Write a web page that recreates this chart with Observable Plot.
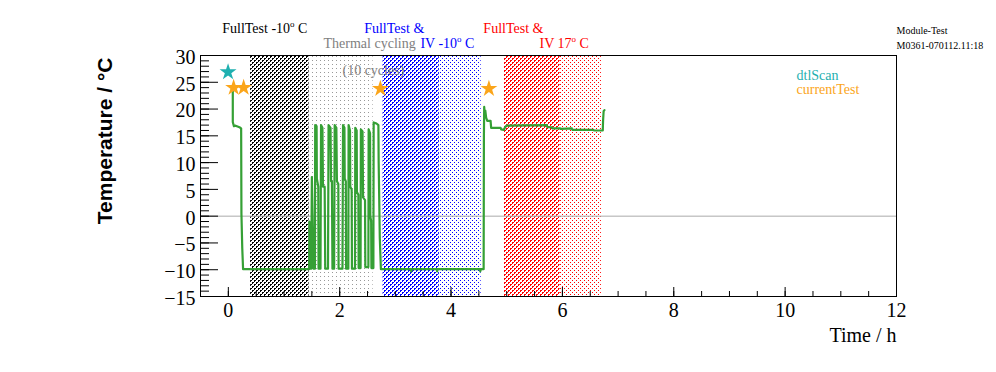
<!DOCTYPE html>
<html>
<head>
<meta charset="utf-8">
<script src="https://cdn.jsdelivr.net/npm/d3@7"></script>
<script src="https://cdn.jsdelivr.net/npm/@observablehq/plot@0.6"></script>
<style>
  body { margin: 0; background: #fff; }
  #chart svg { display: block; }
</style>
</head>
<body>
<div id="chart"></div>
<script>
// ---- Data ----
const times = [
  0.08, 0.08, 0.10, 0.13, 0.20, 0.23, 0.235, 0.25, 0.265,
  1.45, 1.455, 1.465, 1.49, 1.50, 1.53, 1.555,
  1.56, 1.585, 1.59, 1.615, 1.62, 1.655,
  1.665, 1.69, 1.70, 1.73, 1.74, 1.79,
  1.80, 1.835, 1.845, 1.86, 1.87, 1.90,
  1.91, 1.94, 1.95, 1.975, 1.98, 2.05,
  2.06, 2.085, 2.09, 2.11, 2.115, 2.155,
  2.16, 2.185, 2.19, 2.215, 2.22, 2.275,
  2.28, 2.305, 2.31, 2.335, 2.34, 2.375,
  2.38, 2.41, 2.42, 2.455, 2.46, 2.515,
  2.52, 2.545, 2.55, 2.565, 2.57, 2.605,
  2.61, 2.66, 2.695, 2.70, 2.72, 2.74,
  3.28, 3.285, 3.29, 3.745, 3.75, 3.755, 4.52, 4.525, 4.535, 4.585,
  4.59, 4.595, 4.605, 4.615, 4.63, 4.65, 4.71, 4.72, 4.89, 4.90, 4.95, 4.97, 4.995,
  5.72, 5.73, 5.81, 5.82, 5.96, 5.97, 6.17, 6.18, 6.56, 6.57, 6.725, 6.73, 6.74, 6.755
];
const temps = [
  23.5, 17.6, 16.8, 16.9, 16.6, 16.4, 0.5, -6, -9.9,
  -9.9, -1, -9.8, -9.8, 7.3, -9.8, -9.8,
  17, 16.8, 7, 5.5, -9.8, -9.8,
  17, 16.5, 5.5, 5.5, -9.8, -9.8,
  17, 16.5, 6.5, 6.5, -9.8, -9.8,
  17, 16.5, 6.5, 6, -9.8, -9.8,
  17, 16.5, 7, 6.5, -9.8, -9.8,
  17, 16, 5.5, 5, -9.8, -9.8,
  16.5, 16, 4.5, 4, -9.7, -9.7,
  16.2, 15.8, 3.5, 3, -9.5, -9.5,
  16.2, 15.5, 0, -1, -9.7, -9.7,
  17.5, 17.3, 17, 10, -4, -9.9,
  -9.9, -10.3, -9.9, -9.9, -10.3, -9.9, -9.9, -10.3, -9.9, -9.9,
  15, 20.4, 19, 19.7, 18.4, 17.8, 17.8, 16.5, 16.5, 16.2, 16.1, 16.6, 16.9,
  17, 16.6, 16.6, 16.4, 16.4, 16.3, 16.4, 16.1, 16.1, 16.0, 16.0, 17.8, 19.6, 19.8
];
const dtlScanTimes = [-0.005];
const dtlScanTemps = [26.9];
const currentTestTimes = [0.095, 0.275, 2.73, 4.68];
const currentTestTemps = [24.0, 24.0, 23.8, 23.8];
const regionStart = [0.4, 1.45, 2.78, 3.79, 4.96, 5.96];
const regionEnd   = [1.45, 2.6, 3.79, 4.54, 5.96, 6.70];
const xTicks = [0, 2, 4, 6, 8, 10, 12];
const yTicks = [-15, -10, -5, 0, 5, 10, 15, 20, 25, 30];
const legendLabels = ["dtlScan", "currentTest"];
const infoLines = ["Module-Test", "M0361-070112.11:18"];

// ---- Build ----
const series = times.map((t, i) => ({t, temp: temps[i]}));
const dtl = dtlScanTimes.map((t, i) => ({t, temp: dtlScanTemps[i]}));
const cur = currentTestTimes.map((t, i) => ({t, temp: currentTestTemps[i]}));
const regionFills = ["url(#pHatchK)", "url(#pDotsG)", "url(#pHatchB)", "url(#pDotsB)", "url(#pHatchR)", "url(#pDotsR)"];
const xMinor = d3.range(0, 12.01, 0.5);
const yMinor = d3.range(-15, 30.01, 1);

const W = 996, H = 372, mL = 200, mR = 100, mT = 55, mB = 76;
const fw = W - mL - mR, fh = H - mT - mB;
const serif = "'Liberation Serif', 'Times New Roman', serif";
const teal = "#1fb0b0", orange = "#fba51a", green = "#35a035";

const regionMarks = regionStart.map((s, i) =>
  Plot.rect([i], {x1: () => regionStart[i], x2: () => regionEnd[i], fill: regionFills[i]})
);

const chart = Plot.plot({
  width: W, height: H,
  marginLeft: mL, marginRight: mR, marginTop: mT, marginBottom: mB,
  x: {domain: [-0.5, 12]},
  y: {domain: [-15, 30]},
  style: {fontFamily: serif, background: "white", overflow: "visible"},
  marks: [
    ...regionMarks,
    Plot.ruleY([0], {stroke: "#aaa", strokeWidth: 1}),
    Plot.line(series, {x: "t", y: "temp", stroke: green, strokeWidth: 2.2}),
    Plot.dot(dtl, {x: "t", y: "temp", symbol: "star", r: 5.3, fill: teal, stroke: null}),
    Plot.dot(cur, {x: "t", y: "temp", symbol: "star", r: 5.3, fill: orange, stroke: null}),
    // ticks inside frame
    Plot.tickY(yMinor, {y: d => d, insetRight: fw - 9, stroke: "black"}),
    Plot.tickY(yTicks, {y: d => d, insetRight: fw - 18, stroke: "black"}),
    Plot.tickX(xMinor, {x: d => d, insetTop: fh - 5, stroke: "black"}),
    Plot.tickX(xTicks, {x: d => d, insetTop: fh - 9, stroke: "black"}),
    Plot.axisY(yTicks, {tickSize: 0, tickPadding: 5, fontSize: 20, label: null, dy: 2, fill: "black"}),
    Plot.axisX(xTicks, {tickSize: 0, tickPadding: 6, fontSize: 20, label: null, fill: "black"}),
    Plot.frame({stroke: "black"}),
    // axis titles
    Plot.text(["Time / h"], {frameAnchor: "bottom-right", dy: 45, textAnchor: "end", fontSize: 20, fill: "black"}),
    Plot.text(["Temperature / °C"], {frameAnchor: "top-left", dx: -103, dy: 2, rotate: -90, textAnchor: "end", fontSize: 21, fontWeight: "bold", fontFamily: "'Liberation Sans', Arial, sans-serif", fill: "black"}),
    // region annotations
    Plot.text(["FullTest -10° C"], {x: -0.11, y: 35, textAnchor: "start", fontSize: 14, fill: "black", className: "sup-o"}),
    Plot.text(["Thermal cycling"], {x: 1.71, y: 32.2, textAnchor: "start", fontSize: 14, fill: "#808080"}),
    Plot.text(["(10 cycles)"], {x: 2.05, y: 27.2, textAnchor: "start", fontSize: 14, fill: "#808080"}),
    Plot.text(["FullTest &"], {x: 2.44, y: 35, textAnchor: "start", fontSize: 14, fill: "#0000ff"}),
    Plot.text(["IV -10° C"], {x: 3.45, y: 32.2, textAnchor: "start", fontSize: 14, fill: "#0000ff", className: "sup-o"}),
    Plot.text(["FullTest &"], {x: 4.58, y: 35, textAnchor: "start", fontSize: 14, fill: "#ff0000"}),
    Plot.text(["IV 17° C"], {x: 5.59, y: 32.2, textAnchor: "start", fontSize: 14, fill: "#ff0000", className: "sup-o"}),
    // legend
    Plot.text([legendLabels[0]], {frameAnchor: "top-right", dx: -100, dy: 15, textAnchor: "start", fontSize: 14, fill: teal}),
    Plot.text([legendLabels[1]], {frameAnchor: "top-right", dx: -100, dy: 29, textAnchor: "start", fontSize: 14, fill: orange}),
    // info
    Plot.text([infoLines[0]], {frameAnchor: "top-right", dx: 0, dy: -29, textAnchor: "start", fontSize: 10, fill: "black"}),
    Plot.text([infoLines[1]], {frameAnchor: "top-right", dx: 0, dy: -14, textAnchor: "start", fontSize: 10, fill: "black"})
  ]
});

// hatch / dot patterns placed inside the chart's own SVG
const defs = d3.select(chart).insert("defs", ":first-child");
function hatch(id, color) {
  const p = defs.append("pattern").attr("id", id).attr("width", 4).attr("height", 4)
    .attr("patternUnits", "userSpaceOnUse");
  p.append("path").attr("d", "M2,0h2v1h-2z M2,1h1v1h-1z M0,2h2v1h-2z M0,3h1v1h-1z")
    .attr("fill", color).attr("shape-rendering", "crispEdges");
}
function dots(id, color, stagger) {
  const p = defs.append("pattern").attr("id", id).attr("width", 4).attr("height", 4)
    .attr("patternUnits", "userSpaceOnUse");
  p.append("path").attr("d", stagger ? "M0,0h1v1h-1z M2,2h1v1h-1z" : "M0,0h1v1h-1z")
    .attr("fill", color).attr("shape-rendering", "crispEdges");
}
hatch("pHatchK", "#000000");
dots("pDotsG", "#999999", false);
hatch("pHatchB", "#0000ff");
dots("pDotsB", "#0000ff", true);
hatch("pHatchR", "#ff0000");
dots("pDotsR", "#ff0000", true);

// render the degree sign of the region labels as a superscript "o", as in the original
d3.select(chart).selectAll("g.sup-o text").each(function() {
  const s = this.textContent;
  const k = s.indexOf("°");
  if (k < 0) return;
  const t = d3.select(this).text(null);
  t.append("tspan").text(s.slice(0, k));
  t.append("tspan").attr("dy", "-6px").attr("font-size", "9px").text("o");
  t.append("tspan").attr("dy", "6px").text(s.slice(k + 1));
});

document.getElementById("chart").appendChild(chart);
</script>
</body>
</html>
